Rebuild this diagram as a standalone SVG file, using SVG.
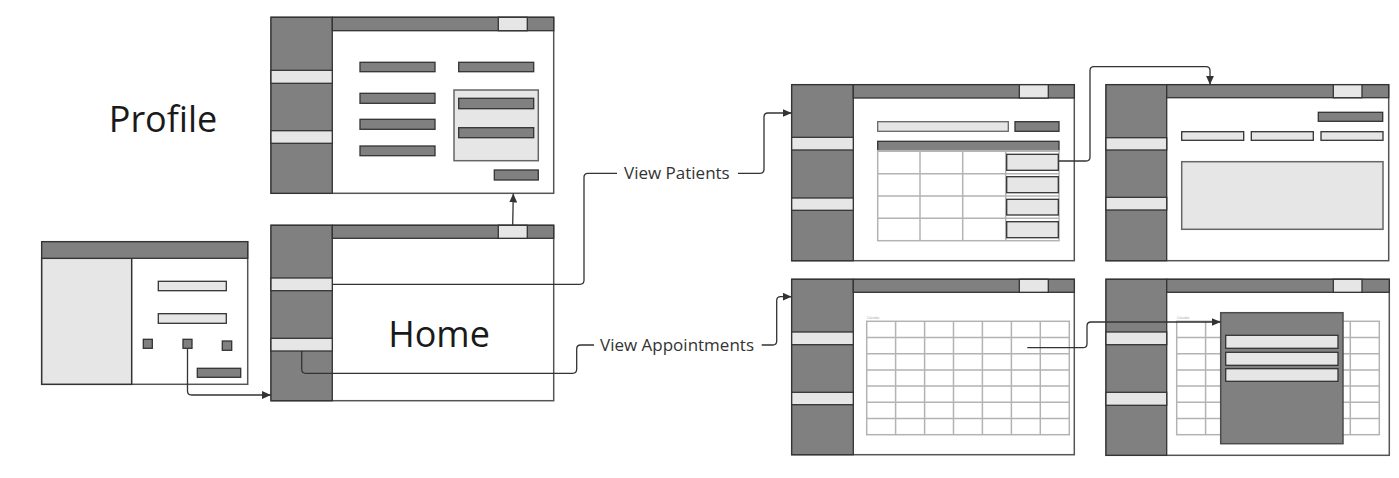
<svg xmlns="http://www.w3.org/2000/svg" width="1399" height="478" viewBox="0 0 1399 478">
  <style>
    .frame { fill: #ffffff; stroke: #555555; stroke-width: 1.5; }
    .dark { fill: #808080; stroke: #333333; stroke-width: 1.3; }
    .light { fill: #e6e6e6; stroke: #333333; stroke-width: 1.3; }
    .panel { fill: #e6e6e6; stroke: #666666; stroke-width: 1.5; }
    .grid { fill: none; stroke: #b3b3b3; stroke-width: 1.5; }
    .popup { fill: #808080; stroke: #4d4d4d; stroke-width: 1.5; }
    .title { font-family: "Open Sans", "Noto Sans", sans-serif; font-size: 36px; fill: #1a1a1a; text-anchor: middle; }
    .label { font-family: "Open Sans", "Noto Sans", sans-serif; font-size: 17px; fill: #333333; }
    .tiny { font-family: "Open Sans", sans-serif; font-size: 3px; fill: #999999; }
    .conn { fill: none; stroke: #333333; stroke-width: 1.3; }
  </style>
  <defs>
    <marker id="arrow" markerUnits="userSpaceOnUse" markerWidth="9" markerHeight="8" refX="9" refY="4" orient="auto">
      <path d="M0,0 L9,4 L0,8 z" fill="#333333"/>
    </marker>
  </defs>
  <rect width="1399" height="478" fill="#ffffff"/>

  <!-- Login screen -->
  <g id="login">
    <rect class="frame" x="41.7" y="241.7" width="206" height="142.6"/>
    <rect class="panel" x="41.7" y="258.3" width="90" height="126" style="stroke:#333333"/>
    <rect class="dark" x="41.7" y="241.7" width="206" height="16.6"/>
    <rect class="light" x="158.3" y="281.3" width="68" height="9.4"/>
    <rect class="light" x="158.3" y="313.7" width="68" height="9.6"/>
    <rect class="dark" x="143.3" y="339.3" width="9" height="9"/>
    <rect class="dark" x="183" y="339.3" width="9" height="9"/>
    <rect class="dark" x="222.3" y="341" width="9.4" height="9.3"/>
    <rect class="dark" x="197.3" y="368.3" width="43.4" height="9"/>
  </g>

  <!-- Profile screen -->
  <g id="profile">
    <text class="title" x="163" y="132.3">Profile</text>
    <rect class="frame" x="271" y="17.3" width="282.7" height="176"/>
    <rect class="dark" x="271" y="17.3" width="61.3" height="176"/>
    <rect class="dark" x="332.3" y="17.3" width="221.4" height="13.4"/>
    <rect class="light" x="498.3" y="17.3" width="29" height="13.4"/>
    <rect class="light" x="271" y="70.3" width="61.3" height="13"/>
    <rect class="light" x="271" y="130.7" width="61.3" height="12.6"/>
    <rect class="dark" x="360" y="62.3" width="75" height="9.4"/>
    <rect class="dark" x="360" y="93.3" width="75" height="10"/>
    <rect class="dark" x="360" y="119.3" width="75" height="10"/>
    <rect class="dark" x="360" y="146" width="75" height="9.7"/>
    <rect class="dark" x="458.7" y="62.3" width="75" height="9.4"/>
    <rect class="panel" x="454" y="90" width="84.3" height="70.7"/>
    <rect class="dark" x="458.7" y="98.3" width="75" height="10.4"/>
    <rect class="dark" x="458.7" y="127.7" width="75" height="10"/>
    <rect class="dark" x="494.3" y="170" width="44" height="10"/>
  </g>

  <!-- Home screen -->
  <g id="home">
    <rect class="frame" x="271" y="225.3" width="282.7" height="175.4"/>
    <rect class="dark" x="271" y="225.3" width="61.3" height="175.4"/>
    <rect class="dark" x="332.3" y="225.3" width="221.4" height="13"/>
    <rect class="light" x="498.3" y="225.3" width="29" height="13"/>
    <rect class="light" x="271" y="278" width="61.3" height="12.7"/>
    <rect class="light" x="271" y="338.3" width="61.3" height="12.7"/>
    <text class="title" x="439" y="347.3">Home</text>
  </g>

  <!-- Patient list screen -->
  <g id="patients">
    <rect class="frame" x="791.7" y="84.7" width="282.6" height="176"/>
    <rect class="dark" x="791.7" y="84.7" width="61.6" height="176"/>
    <rect class="dark" x="853.3" y="84.7" width="221" height="13.3"/>
    <rect class="light" x="1019.3" y="84.7" width="29" height="13.3"/>
    <rect class="light" x="791.7" y="137.3" width="61.6" height="12.7"/>
    <rect class="light" x="791.7" y="198" width="61.6" height="12.3"/>
    <rect class="light" x="877.7" y="121.7" width="130.6" height="9.6" style="stroke:#666666"/>
    <rect class="dark" x="1015" y="121.7" width="44" height="9.6"/>
    <rect class="dark" x="877.7" y="141.3" width="181.3" height="9.4"/>
    <rect class="grid" x="877.7" y="150.7" width="181.3" height="90"/>
    <path class="grid" d="M920,150.7 V240.7 M962.7,150.7 V240.7 M1005.7,150.7 V240.7 M877.7,173.7 H1059 M877.7,196 H1059 M877.7,218.3 H1059"/>
    <rect class="light" x="1006.7" y="154.3" width="51.6" height="16"/>
    <rect class="light" x="1006.7" y="176.7" width="51.6" height="16"/>
    <rect class="light" x="1006.7" y="199.3" width="51.6" height="15.7"/>
    <rect class="light" x="1006.7" y="221.7" width="51.6" height="16"/>
  </g>

  <!-- Patient detail screen -->
  <g id="patient-detail">
    <rect class="frame" x="1106" y="84.7" width="282.7" height="176"/>
    <rect class="dark" x="1106" y="84.7" width="60.7" height="176"/>
    <rect class="dark" x="1166.7" y="84.7" width="222" height="13"/>
    <rect class="light" x="1333.3" y="84.7" width="28.7" height="13"/>
    <rect class="light" x="1106" y="137.7" width="60.7" height="12.3"/>
    <rect class="light" x="1106" y="197.3" width="60.7" height="12.7"/>
    <rect class="dark" x="1318.3" y="112.3" width="64.4" height="9"/>
    <rect class="light" x="1181.7" y="131.7" width="62" height="8.6"/>
    <rect class="light" x="1251.3" y="131.7" width="62" height="8.6"/>
    <rect class="light" x="1321" y="131.7" width="62" height="8.6"/>
    <rect class="panel" x="1181.7" y="161.7" width="201.3" height="67.6"/>
  </g>

  <!-- Appointments calendar screen -->
  <g id="appointments">
    <rect class="frame" x="791.7" y="279.3" width="282.6" height="175.4"/>
    <rect class="dark" x="791.7" y="279.3" width="61.6" height="175.4"/>
    <rect class="dark" x="853.3" y="279.3" width="221" height="13"/>
    <rect class="light" x="1019.3" y="279.3" width="29" height="13"/>
    <rect class="light" x="791.7" y="332" width="61.6" height="12.7"/>
    <rect class="light" x="791.7" y="392.3" width="61.6" height="12.4"/>
    <text class="tiny" x="867" y="318.5">Calendar</text>
    <rect class="grid" x="866.7" y="321.3" width="202.6" height="113.4"/>
    <path class="grid" d="M895.6,321.3 V434.7 M924.6,321.3 V434.7 M953.5,321.3 V434.7 M982.4,321.3 V434.7 M1011.4,321.3 V434.7 M1040.3,321.3 V434.7 M866.7,337.5 H1069.3 M866.7,353.7 H1069.3 M866.7,369.9 H1069.3 M866.7,386.1 H1069.3 M866.7,402.3 H1069.3 M866.7,418.5 H1069.3"/>
  </g>

  <!-- Appointment detail popup screen -->
  <g id="appointment-detail">
    <rect class="frame" x="1106" y="279.3" width="283.3" height="176"/>
    <rect class="dark" x="1106" y="279.3" width="60.7" height="176"/>
    <rect class="dark" x="1166.7" y="279.3" width="222.6" height="13"/>
    <rect class="light" x="1333.3" y="279.3" width="28.7" height="13"/>
    <rect class="light" x="1106" y="332" width="60.7" height="12.7"/>
    <rect class="light" x="1106" y="392.3" width="60.7" height="13"/>
    <text class="tiny" x="1177" y="318.5">Calendar</text>
    <rect class="grid" x="1176.7" y="321.3" width="202.6" height="113.4"/>
    <path class="grid" d="M1205.6,321.3 V434.7 M1234.6,321.3 V434.7 M1263.5,321.3 V434.7 M1292.4,321.3 V434.7 M1321.4,321.3 V434.7 M1350.3,321.3 V434.7 M1176.7,337.5 H1379.3 M1176.7,353.7 H1379.3 M1176.7,369.9 H1379.3 M1176.7,386.1 H1379.3 M1176.7,402.3 H1379.3 M1176.7,418.5 H1379.3"/>
    <rect class="popup" x="1220.7" y="312.7" width="122.3" height="131"/>
    <rect class="light" x="1225.7" y="335.3" width="112.3" height="13"/>
    <rect class="light" x="1225.7" y="352.3" width="112.3" height="13"/>
    <rect class="light" x="1225.7" y="368.7" width="112.3" height="12.6"/>
  </g>

  <!-- Navigation connectors -->
  <g id="connectors">
    <path class="conn" d="M187.5,349 V391 Q187.5,395 191.5,395 H271" marker-end="url(#arrow)"/>
    <path class="conn" d="M512.7,225.3 L513.3,193.5" marker-end="url(#arrow)"/>
    <path class="conn" d="M332.3,284.3 H580 Q584,284.3 584,280.3 V177.3 Q584,173.3 588,173.3 H617"/>
    <path class="conn" d="M738,173.3 H760 Q764,173.3 764,169.3 V117 Q764,113 768,113 H791.7" marker-end="url(#arrow)"/>
    <path class="conn" d="M301.7,351 V369.3 Q301.7,373.3 305.7,373.3 H572.7 Q576.7,373.3 576.7,369.3 V349 Q576.7,345 580.7,345 H594"/>
    <path class="conn" d="M761.7,345 H772.7 Q776.7,345 776.7,341 V300.7 Q776.7,296.7 780.7,296.7 H791.7" marker-end="url(#arrow)"/>
    <path class="conn" d="M1058.3,161 H1086 Q1090,161 1090,157 V70.7 Q1090,66.7 1094,66.7 H1206 Q1210,66.7 1210,70.7 V84.7" marker-end="url(#arrow)"/>
    <path class="conn" d="M1027.3,347.7 H1083 Q1087,347.7 1087,343.7 V326 Q1087,322 1091,322 H1220.7" marker-end="url(#arrow)"/>
    <text class="label" x="624" y="179.3">View Patients</text>
    <text class="label" x="600" y="351">View Appointments</text>
  </g>
</svg>
